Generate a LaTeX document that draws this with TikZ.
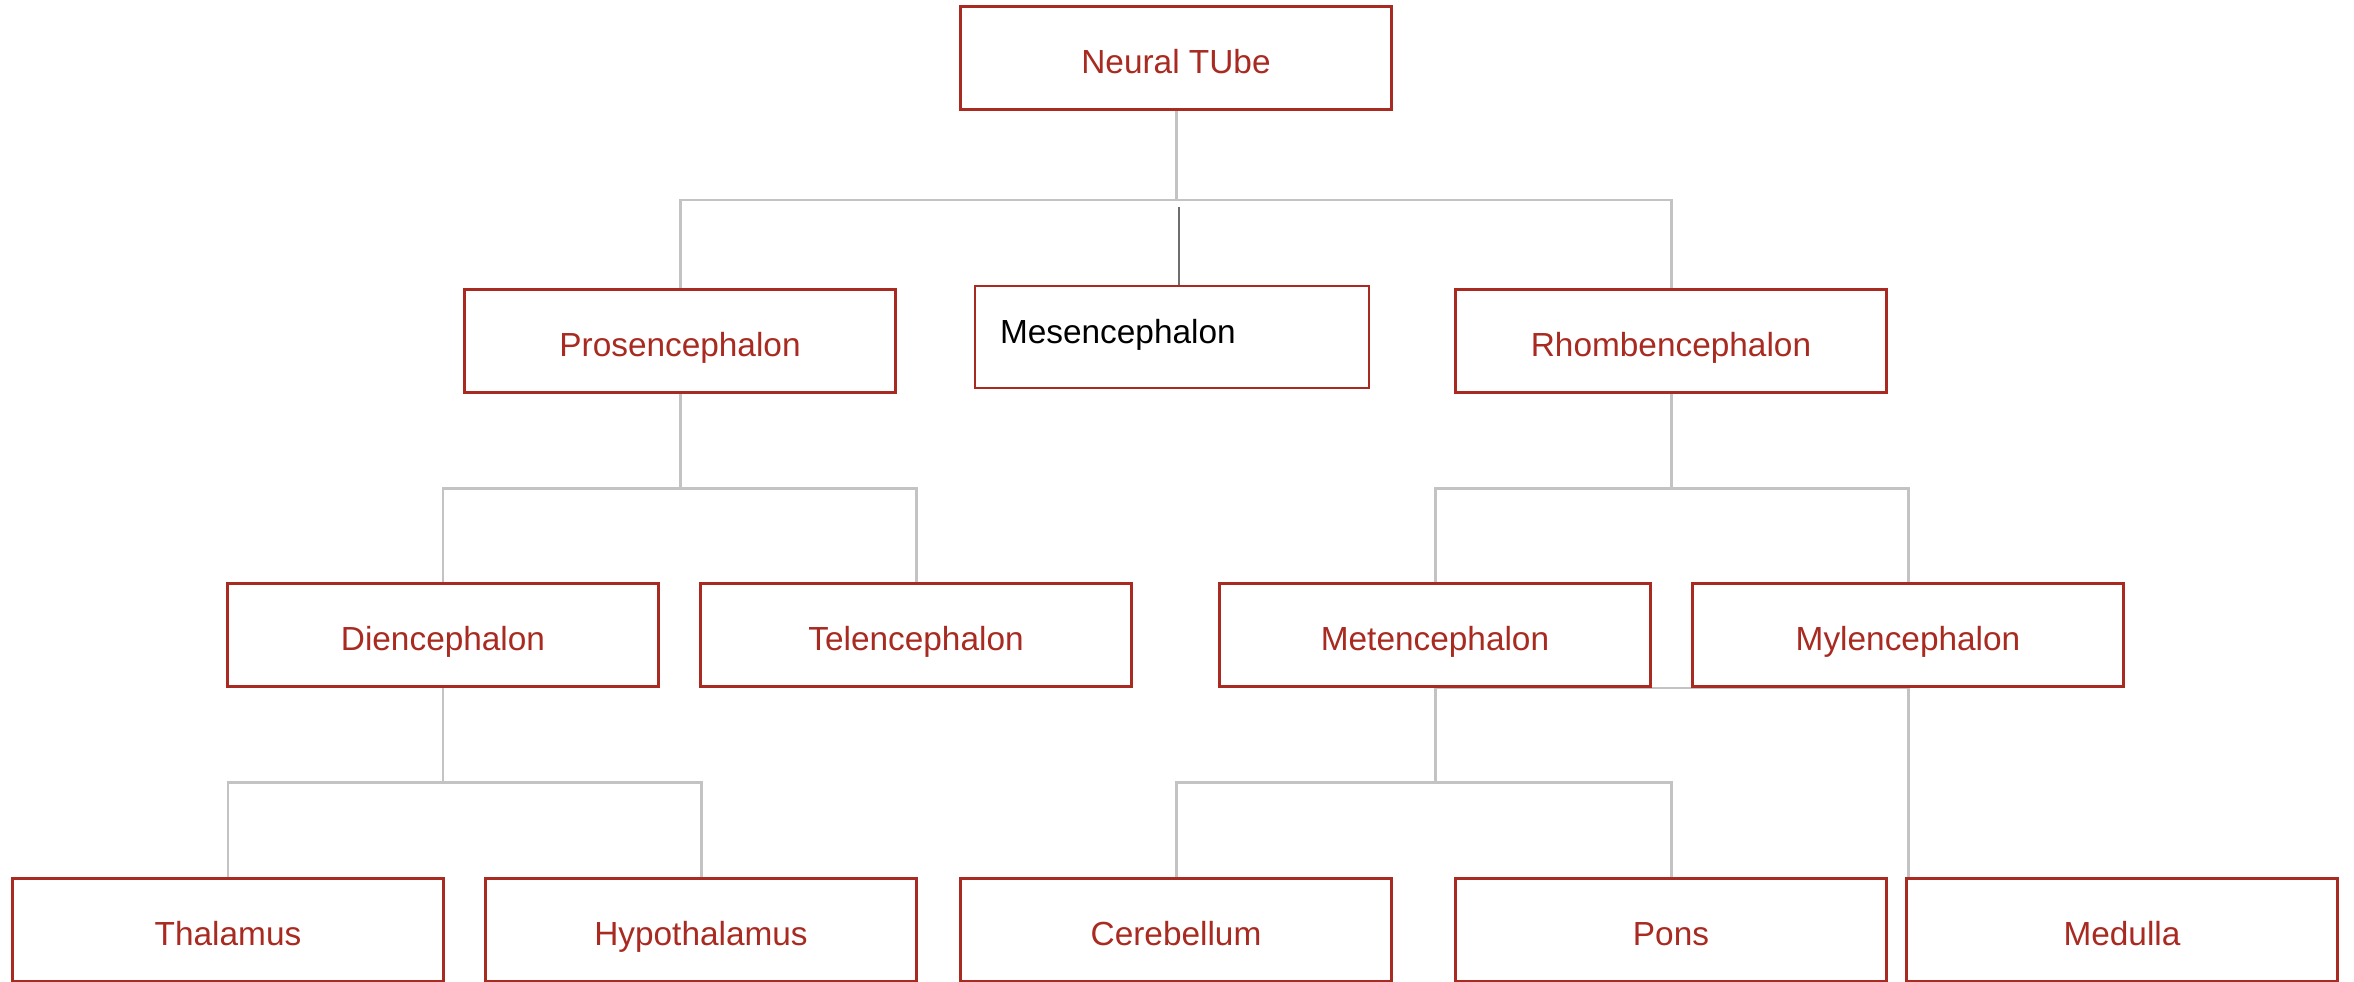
\documentclass[tikz,border=0pt]{standalone}
\usepackage{fontspec}
\setmainfont{Liberation Sans}
\usetikzlibrary{positioning,backgrounds}
\definecolor{TreeRed}{HTML}{A82A20}
\definecolor{TreeLine}{HTML}{C3C3C3}
\definecolor{TreeStub}{HTML}{6E6E6E}

\begin{document}
\begin{tikzpicture}[x=0.02cm,y=-0.02cm,
  part/.style={rectangle,draw=TreeRed,fill=white,line width=1.7pt,text=TreeRed,minimum width=8.62cm,minimum height=2.06cm,text height=0.6cm,text depth=0cm,font=\fontsize{19}{23}\selectfont},
  plain/.style={rectangle,draw=TreeRed,fill=white,line width=0.8pt,text=black,minimum width=7.88cm,minimum height=2.04cm,text width=6.88cm,inner xsep=0.5cm,text height=0.36cm,text depth=0.12cm,align=left,font=\fontsize{19}{23}\selectfont},
  link/.style={draw=TreeLine,line width=1.7pt},
  stub/.style={draw=TreeStub,line width=0.8pt}
]
\useasboundingbox (0,0) rectangle (2354,981);
% level 0
\node[part] (tube) at (1176,58) {Neural TUbe};
% level 1
\node[part] (pros) at (680,341) {Prosencephalon};
\node[plain] (mes) at (1172,337) {Mesencephalon};
\node[part] (rhomb) at (1671,341) {Rhombencephalon};
% level 2
\node[part] (dien) at (443,635) {Diencephalon};
\node[part] (telen) at (916,635) {Telencephalon};
\node[part] (meten) at (1435,635) {Metencephalon};
\node[part] (mylen) at (1908,635) {Mylencephalon};
% level 3
\node[part] (thal) at (228,930) {Thalamus};
\node[part] (hypo) at (701,930) {Hypothalamus};
\node[part] (cereb) at (1176,930) {Cerebellum};
\node[part] (pons) at (1671,930) {Pons};
\node[part] (medulla) at (2122,930) {Medulla};

\coordinate (bus0) at (1176,200);
\coordinate (bus1) at (680,488);
\coordinate (bus2) at (1671,488);
\coordinate (bus3) at (443,782);
\coordinate (bus4) at (1435,782);
\coordinate (mestop) at (1179,207);

\begin{scope}[on background layer]
\draw[link] (tube) -- (bus0);
\draw[link] (pros) |- (bus0) -| (rhomb);
\draw[link] (pros) -- (bus1);
\draw[link] (dien) |- (bus1) -| (telen);
\draw[link] (rhomb) -- (bus2);
\draw[link] (meten) |- (bus2) -| (mylen);
\draw[link] (dien) -- (bus3);
\draw[link] (thal) |- (bus3) -| (hypo);
\draw[link] (meten) -- (bus4);
\draw[link] (cereb) |- (bus4) -| (pons);
\draw[link] (meten.south) -- (mylen.south) -- (mylen.south |- medulla.north);
\end{scope}
\draw[stub] (mestop) -- (mestop |- mes.north);
\end{tikzpicture}
\end{document}
